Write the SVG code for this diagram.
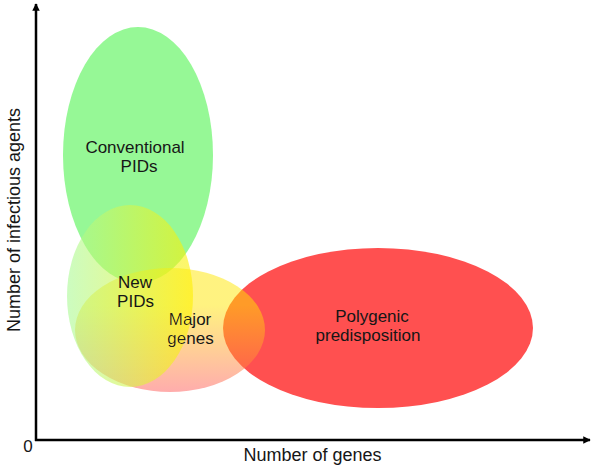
<svg xmlns="http://www.w3.org/2000/svg" xmlns:xlink="http://www.w3.org/1999/xlink" width="592" height="465" viewBox="0 0 592 465">
<style>
text{font-family:"Liberation Sans",Arial,sans-serif;fill:#161616;}
.lbl{font-size:17px;text-anchor:middle;}
.ax{font-size:18px;text-anchor:middle;}
.axis{stroke:#000;stroke-width:2.5;fill:none;}
</style>
<defs>
<linearGradient id="majorGrad" x1="0" y1="0" x2="0" y2="1">
<stop offset="0" stop-color="#ffe600" stop-opacity="0.5"/>
<stop offset="0.3" stop-color="#ffe600" stop-opacity="0.5"/>
<stop offset="1" stop-color="#ff5a5a" stop-opacity="0.5"/>
</linearGradient>
<linearGradient id="newGrad" x1="0" y1="0" x2="1" y2="0">
<stop offset="0" stop-color="#aafa96" stop-opacity="0.6"/>
<stop offset="1" stop-color="#fff000" stop-opacity="0.6"/>
</linearGradient>
<mask id="keepMajorText" maskUnits="userSpaceOnUse" x="0" y="0" width="592" height="465">
<rect x="0" y="0" width="592" height="465" fill="#fff"/>
<use xlink:href="#major-text" style="fill:#000"/>
</mask>
<marker id="arr" viewBox="0 0 10 10" refX="9" refY="5" markerWidth="3" markerHeight="3" orient="auto" markerUnits="strokeWidth">
<path d="M0,0 L10,5 L0,10 z" fill="#000"/>
</marker>
</defs>
<rect width="592" height="465" fill="#fff"/>

<g id="node-conventional">
<ellipse cx="138" cy="155" rx="75" ry="128" fill="#96f896"/>
<text class="lbl" x="135" y="152.5">Conventional</text>
<text class="lbl" x="139" y="171.5">PIDs</text>
</g>

<g id="node-polygenic">
<ellipse cx="378" cy="328" rx="155" ry="80" fill="#ff5050"/>
<text class="lbl" x="372" y="321.5">Polygenic</text>
<text class="lbl" x="368" y="340.5">predisposition</text>
</g>

<g id="node-major">
<ellipse cx="170" cy="330" rx="95" ry="62" fill="url(#majorGrad)"/>
<text id="major-text" class="lbl"><tspan x="190" y="325">Major</tspan><tspan x="190.5" y="344">genes</tspan></text>
</g>

<g id="node-newpids">
<ellipse cx="130" cy="296" rx="63" ry="91" fill="url(#newGrad)" mask="url(#keepMajorText)"/>
<text class="lbl" x="135" y="287.5">New</text>
<text class="lbl" x="135.5" y="306.5">PIDs</text>
</g>

<g id="connectors">
<line class="axis" x1="36" y1="441" x2="36" y2="4" marker-end="url(#arr)"/>
<line class="axis" x1="35" y1="440" x2="590" y2="440" marker-end="url(#arr)"/>
</g>

<g id="axis-labels">
<text class="ax" x="28" y="452" style="font-size:17px">0</text>
<text class="ax" x="312.5" y="461">Number of genes</text>
<text class="ax" transform="translate(20,220) rotate(-90)" x="0" y="0">Number of infectious agents</text>
</g>
</svg>
